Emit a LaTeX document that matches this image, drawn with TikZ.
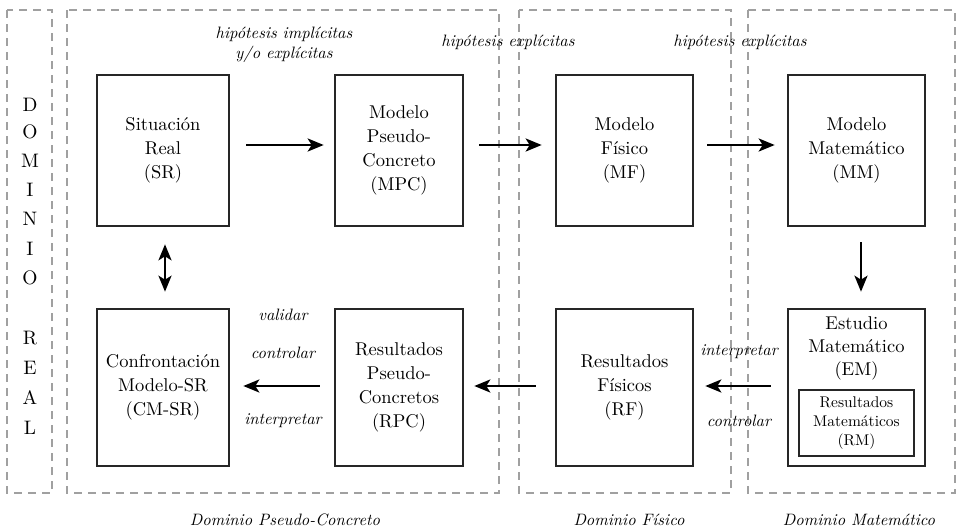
\documentclass[tikz,border=0pt]{standalone}
\usepackage{fontspec}
\setmainfont{lmroman10}[Extension=.otf,UprightFont=*-regular,ItalicFont=*-italic,BoldFont=*-bold,BoldItalicFont=*-bolditalic]
\usetikzlibrary{arrows.meta}
\definecolor{dgray}{RGB}{160,160,160}
\begin{document}
\begin{tikzpicture}[x=1pt,y=-1pt,
  box/.style={draw=black!85,line width=2.6pt,minimum width=132pt,minimum height=151pt,inner sep=0pt,align=center,font=\fontsize{18.5}{24}\selectfont},
  rmbox/.style={draw=black!85,line width=1.4pt,minimum width=115pt,minimum height=66pt,inner sep=0pt,align=center,font=\fontsize{15.5}{19}\selectfont},
  dom/.style={draw=dgray,line width=2.2pt,dash pattern=on 8pt off 6pt},
  lbl/.style={font=\fontsize{16.5}{20}\selectfont\itshape,align=center,inner sep=0pt},
  let/.style={font=\fontsize{19.5}{24}\selectfont,inner sep=0pt},
  arr/.style={line width=2.5pt,-{Stealth[length=16pt,width=13pt,inset=4pt]}},
  darr/.style={line width=2.5pt,{Stealth[length=16pt,width=13pt,inset=4pt]}-{Stealth[length=16pt,width=13pt,inset=4pt]}}]
\useasboundingbox (0,0) rectangle (959,528);
% domains
\draw[dom] (7,10) rectangle (52,493);
\draw[dom] (67,10) rectangle (499,493);
\draw[dom] (519,10) rectangle (731,493);
\draw[dom] (748,10) rectangle (955,493);
% DOMINIO REAL
\foreach \c/\yy [count=\i] in {D/105,O/132,M/161,I/190,N/219,I/249,O/278,R/338,E/368,A/398,L/428}
  \node[let] (dr\i) at (30,\yy) {\c};
% boxes
\node[box] (SR) at (163,150.5) {Situación\\Real\\(SR)};
\node[box,minimum width=128pt] (MPC) at (399,150.5) {Modelo\\Pseudo-\\Concreto\\(MPC)};
\node[box,minimum width=137pt] (MF) at (624.5,150.5) {Modelo\\Físico\\(MF)};
\node[box,minimum width=137pt] (MM) at (856.5,150.5) {Modelo\\Matemático\\(MM)};
\node[box,minimum height=157pt] (CM) at (163,387.5) {Confrontación\\Modelo-SR\\(CM-SR)};
\node[box,minimum width=128pt,minimum height=157pt] (RPC) at (399,387.5) {Resultados\\Pseudo-\\Concretos\\(RPC)};
\node[box,minimum width=137pt,minimum height=157pt] (RF) at (624.5,387.5) {Resultados\\Físicos\\(RF)};
\node[box,minimum width=137pt,minimum height=157pt] (EM) at (856.5,387.5) {};
\node[anchor=north,align=center,inner sep=0pt,font=\fontsize{18.5}{23}\selectfont] (EMt) at (856.5,316) {Estudio\\Matemático\\(EM)};
\node[rmbox] (RM) at (856.5,423) {Resultados\\Matemáticos\\(RM)};
% arrows
\draw[arr,shorten <=16pt,shorten >=10pt] ([yshift=5.5pt]SR.east) -- ([yshift=5.5pt]MPC.west);
\draw[arr,shorten <=15pt,shorten >=13pt] ([yshift=5.5pt]MPC.east) -- ([yshift=5.5pt]MF.west);
\draw[arr,shorten <=13pt,shorten >=12pt] ([yshift=5.5pt]MF.east) -- ([yshift=5.5pt]MM.west);
\draw[arr,shorten <=15pt,shorten >=16pt] ([xshift=4.5pt]MM.south) -- ([xshift=4.5pt]EM.north);
\draw[darr,shorten <=17pt,shorten >=16pt] ([xshift=2pt]SR.south) -- ([xshift=2pt]CM.north);
\draw[arr,shorten <=14pt,shorten >=13pt] ([yshift=1.5pt]RPC.west) -- ([yshift=1.5pt]CM.east);
\draw[arr,shorten <=19pt,shorten >=10pt] ([yshift=1.5pt]RF.west) -- ([yshift=1.5pt]RPC.east);
\draw[arr,shorten <=16pt,shorten >=11pt] ([yshift=1.5pt]EM.west) -- ([yshift=1.5pt]RF.east);
% labels
\node[lbl] (h1) at (284,45) {hipótesis implícitas\\y/o explícitas};
\node[lbl] (h2) at (508,42) {hipótesis explícitas};
\node[lbl] (h3) at (740,42) {hipótesis explícitas};
\node[lbl] (v1) at (283,315) {validar};
\node[lbl] (c1) at (283,353) {controlar};
\node[lbl] (i1) at (283,421) {interpretar};
\node[lbl] (i2) at (739,352) {interpretar};
\node[lbl] (c2) at (739,421) {controlar};
\node[lbl] (d1) at (285,520) {Dominio Pseudo-Concreto};
\node[lbl] (d2) at (629,520) {Dominio Físico};
\node[lbl] (d3) at (859,520) {Dominio Matemático};
\end{tikzpicture}
\end{document}
